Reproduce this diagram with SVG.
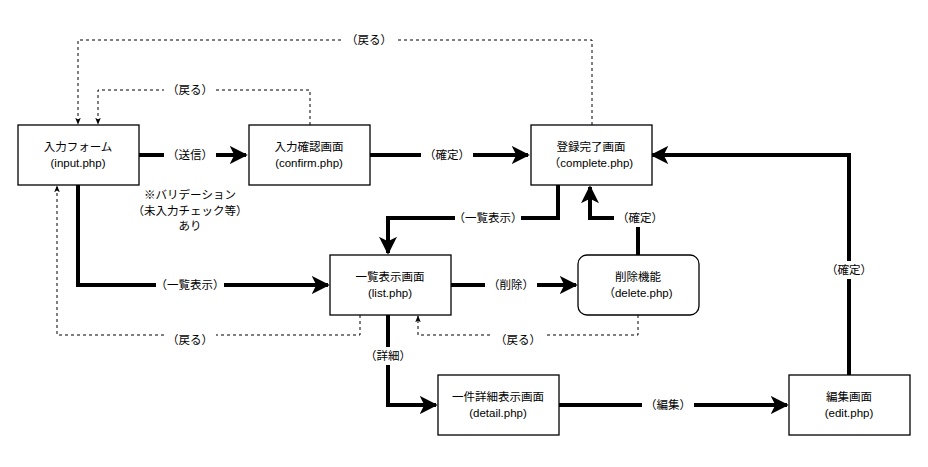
<svg xmlns="http://www.w3.org/2000/svg" width="928" height="467" viewBox="0 0 928 467">
<defs>
<style>
.n{fill:#fff;stroke:#000;stroke-width:1.3}
text{font-family:"Liberation Sans","Noto Sans CJK JP",sans-serif;font-size:11.5px;fill:#000;text-anchor:middle;dominant-baseline:central}
.t{fill:none;stroke:#000;stroke-width:4}
.d{fill:none;stroke:#000;stroke-width:1;stroke-dasharray:3 3}
.lb{fill:#fff;stroke:none}
</style>
<marker id="A" viewBox="0 0 10 10" refX="9" refY="5" markerWidth="4.5" markerHeight="4.5" orient="auto" markerUnits="strokeWidth"><path d="M0,0L10,5L0,10L2.5,5z" fill="#000"/></marker>
<marker id="a" viewBox="0 0 10 10" refX="9" refY="5" markerWidth="7" markerHeight="7" orient="auto" markerUnits="strokeWidth"><path d="M0,1L10,5L0,9L2.5,5z" fill="#000"/></marker>
</defs>
<rect width="928" height="467" fill="#fff"/>
<g id="connectors">
<path class="t" d="M139,155H246" marker-end="url(#A)"/>
<path class="t" d="M370,155H528" marker-end="url(#A)"/>
<path class="t" d="M558,185V218H388V253" marker-end="url(#A)"/>
<path class="t" d="M638,255V218H590V187" marker-end="url(#A)"/>
<path class="t" d="M78,185V285H328" marker-end="url(#A)"/>
<path class="t" d="M451,285H576" marker-end="url(#A)"/>
<path class="t" d="M388,315V405H436" marker-end="url(#A)"/>
<path class="t" d="M559,405H787" marker-end="url(#A)"/>
<path class="t" d="M849,375V155H652" marker-end="url(#A)"/>
<path class="d" d="M592,125V40H78V124" marker-end="url(#a)"/>
<path class="d" d="M310,125V90H98V124" marker-end="url(#a)"/>
<path class="d" d="M360,315V335H57V186" marker-end="url(#a)"/>
<path class="d" d="M638,315V335H418V316" marker-end="url(#a)"/>
<rect class="lb" x="164" y="146" width="52" height="18"/><text x="190" y="155">（送信）</text>
<rect class="lb" x="421" y="146" width="52" height="18"/><text x="447" y="155">（確定）</text>
<rect class="lb" x="455" y="209" width="66" height="18"/><text x="488" y="218">（一覧表示）</text>
<rect class="lb" x="614" y="209" width="50" height="18"/><text x="640" y="218">（確定）</text>
<rect class="lb" x="156" y="276" width="68" height="18"/><text x="190" y="285">（一覧表示）</text>
<rect class="lb" x="485" y="276" width="52" height="18"/><text x="511" y="285">（削除）</text>
<rect class="lb" x="362" y="347" width="52" height="18"/><text x="388" y="356">（詳細）</text>
<rect class="lb" x="642" y="396" width="52" height="18"/><text x="668" y="405">（編集）</text>
<rect class="lb" x="823" y="261" width="52" height="18"/><text x="849" y="270">（確定）</text>
<rect class="lb" x="343" y="31" width="52" height="18"/><text x="369" y="40">（戻る）</text>
<rect class="lb" x="164" y="81" width="52" height="18"/><text x="190" y="90">（戻る）</text>
<rect class="lb" x="164" y="331" width="52" height="18"/><text x="190" y="340">（戻る）</text>
<rect class="lb" x="492" y="331" width="52" height="18"/><text x="518" y="340">（戻る）</text>
</g>
<g id="note"><text x="190" y="195">※バリデーション</text><text x="190" y="211">（未入力チェック等）</text><text x="190" y="226">あり</text></g>
<g id="input"><rect class="n" x="18" y="125" width="121" height="60"/><text x="78" y="147">入力フォーム</text><text x="78" y="163">(input.php)</text></g>
<g id="confirm"><rect class="n" x="249" y="125" width="121" height="60"/><text x="309" y="147">入力確認画面</text><text x="309" y="163">(confirm.php)</text></g>
<g id="complete"><rect class="n" x="531" y="125" width="121" height="60"/><text x="591" y="147">登録完了画面</text><text x="591" y="163">（complete.php)</text></g>
<g id="list"><rect class="n" x="330" y="255" width="121" height="60"/><text x="390" y="277">一覧表示画面</text><text x="390" y="293">(list.php)</text></g>
<g id="delete"><rect class="n" x="578" y="255" width="121" height="60" rx="9"/><text x="638" y="277">削除機能</text><text x="638" y="293">（delete.php)</text></g>
<g id="detail"><rect class="n" x="438" y="375" width="121" height="60"/><text x="498" y="397">一件詳細表示画面</text><text x="498" y="413">(detail.php)</text></g>
<g id="edit"><rect class="n" x="789" y="375" width="121" height="60"/><text x="849" y="397">編集画面</text><text x="849" y="413">(edit.php)</text></g>
</svg>
